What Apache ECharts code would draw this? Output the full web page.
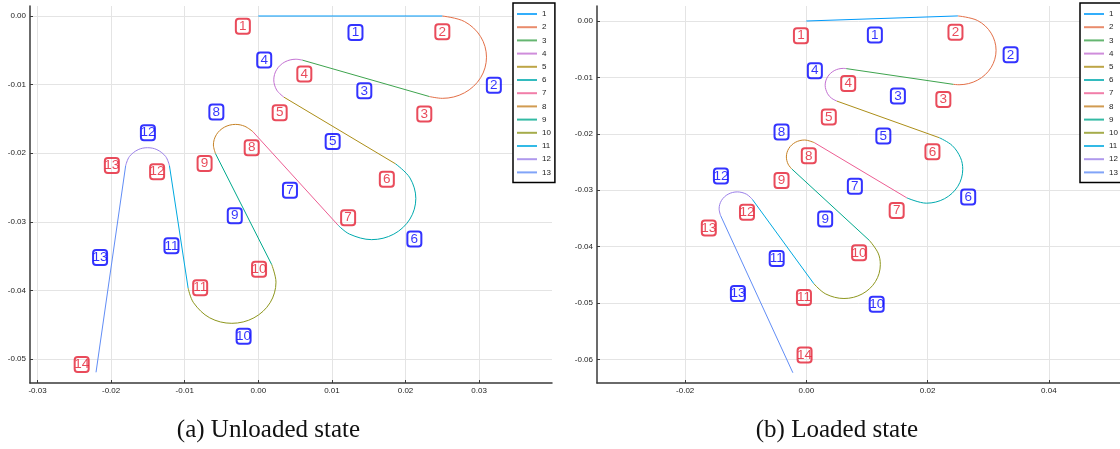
<!DOCTYPE html>
<html><head><meta charset="utf-8">
<script src="https://cdn.jsdelivr.net/npm/echarts@6/dist/echarts.min.js"></script>
<style>html,body{margin:0;padding:0;background:#fff}#c{width:1120px;height:449px}</style>
</head><body><div id="c"></div>
<script>
// ---- data ----
const segmentNames = ['1','2','3','4','5','6','7','8','9','10','11','12','13'];
const captions = ['(a) Unloaded state', '(b) Loaded state'];

// (a) unloaded state: points along each of the 13 segments
const unloadedSegments = [
  [[0,0],[0.025,0]],
  [[0.025,0],[0.028,-0.0008],[0.0302,-0.003],[0.031,-0.006],[0.0302,-0.009],[0.028,-0.0112],[0.025,-0.012],[0.02324,-0.01174]],
  [[0.02324,-0.01174],[0.00598,-0.00643]],
  [[0.00598,-0.00643],[0.0051,-0.0063],[0.0036,-0.0067],[0.0025,-0.0078],[0.0021,-0.0093],[0.0025,-0.0108],[0.00348,-0.01183]],
  [[0.00348,-0.01183],[0.01864,-0.02155]],
  [[0.01864,-0.02155],[0.0206,-0.0236],[0.0214,-0.0266],[0.0206,-0.0296],[0.0184,-0.0318],[0.0154,-0.0326],[0.0124,-0.0318],[0.01084,-0.0305]],
  [[0.01084,-0.0305],[-0.00075,-0.01685]],
  [[-0.00075,-0.01685],[-0.00183,-0.01608],[-0.0031,-0.0158],[-0.0046,-0.0162],[-0.0057,-0.0173],[-0.0061,-0.0188],[-0.00581,-0.02008]],
  [[-0.00581,-0.02008],[0.00182,-0.03624]],
  [[0.00182,-0.03624],[0.0024,-0.0388],[0.0016,-0.0418],[-0.0006,-0.0440],[-0.0036,-0.0448],[-0.0066,-0.0440],[-0.0088,-0.0418],[-0.00954,-0.03965]],
  [[-0.00954,-0.03965],[-0.01208,-0.02178]],
  [[-0.01208,-0.02178],[-0.01259,-0.02048],[-0.01378,-0.01948],[-0.01505,-0.0192],[-0.01632,-0.01948],[-0.01751,-0.02048],[-0.01802,-0.0218]],
  [[-0.01802,-0.0218],[-0.02205,-0.05194]]
];

// (b) loaded state
const loadedSegments = [
  [[0,0],[0.0250,0.0009]],
  [[0.0250,0.0009],[0.02825,0.00008],[0.03048,-0.00215],[0.0313,-0.0052],[0.03048,-0.00825],[0.02825,-0.01048],[0.0252,-0.0113],[0.02425,-0.01123]],
  [[0.02425,-0.01123],[0.00657,-0.00844]],
  [[0.00657,-0.00844],[0.0061,-0.0084],[0.0046,-0.0088],[0.0035,-0.0099],[0.0031,-0.0114],[0.0035,-0.0129],[0.00417,-0.0137],[0.00503,-0.0142]],
  [[0.00503,-0.0142],[0.02195,-0.0207]],
  [[0.02195,-0.0207],[0.02404,-0.02206],[0.02544,-0.02425],[0.0258,-0.0263],[0.025,-0.0293],[0.0228,-0.0315],[0.0198,-0.0323],[0.01656,-0.03135]],
  [[0.01656,-0.03135],[0.00132,-0.02157]],
  [[0.00132,-0.02157],[-0.0003,-0.0211],[-0.0018,-0.0215],[-0.0029,-0.0226],[-0.0033,-0.0241],[-0.00302,-0.02537],[-0.00241,-0.02623]],
  [[-0.00241,-0.02623],[0.01042,-0.03893]],
  [[0.01042,-0.03893],[0.01184,-0.04115],[0.0122,-0.0432],[0.0114,-0.0462],[0.0092,-0.0484],[0.0062,-0.0492],[0.0032,-0.0484],[0.00123,-0.04657]],
  [[0.00123,-0.04657],[-0.00892,-0.03162]],
  [[-0.00892,-0.03162],[-0.0099,-0.0307],[-0.0114,-0.0303],[-0.0129,-0.0307],[-0.0140,-0.0318],[-0.0144,-0.0333],[-0.01416,-0.03448]],
  [[-0.01416,-0.03448],[-0.00223,-0.06236]]
];

// boxed node numbers (red) and segment numbers (blue): [x, y, text]
const unloadedNodeLabels = [
  [-0.0021,-0.0015,'1'],[0.0250,-0.0023,'2'],[0.02255,-0.0143,'3'],[0.00625,-0.00845,'4'],
  [0.0029,-0.0141,'5'],[0.01746,-0.0238,'6'],[0.0122,-0.0294,'7'],[-0.0009,-0.0192,'8'],
  [-0.0073,-0.0215,'9'],[0.0001,-0.0369,'10'],[-0.0079,-0.0396,'11'],[-0.01375,-0.0227,'12'],
  [-0.0199,-0.0218,'13'],[-0.0240,-0.0508,'14']
];
const unloadedSegmentLabels = [
  [0.0132,-0.0024,'1'],[0.0320,-0.0101,'2'],[0.0144,-0.0109,'3'],[0.0008,-0.0064,'4'],
  [0.0101,-0.0183,'5'],[0.0212,-0.0325,'6'],[0.0043,-0.0254,'7'],[-0.0057,-0.0140,'8'],
  [-0.0032,-0.0291,'9'],[-0.0020,-0.0467,'10'],[-0.0118,-0.0335,'11'],[-0.0150,-0.0170,'12'],
  [-0.0215,-0.0352,'13']
];
const loadedNodeLabels = [
  [-0.0009,-0.0026,'1'],[0.0246,-0.0020,'2'],[0.0226,-0.0139,'3'],[0.0069,-0.0111,'4'],
  [0.0037,-0.0170,'5'],[0.0208,-0.0232,'6'],[0.0149,-0.0336,'7'],[0.0004,-0.0239,'8'],
  [-0.0041,-0.0283,'9'],[0.0087,-0.0411,'10'],[-0.0004,-0.0490,'11'],[-0.0098,-0.0339,'12'],
  [-0.0161,-0.0367,'13'],[-0.0003,-0.0592,'14']
];
const loadedSegmentLabels = [
  [0.0113,-0.0025,'1'],[0.0337,-0.0060,'2'],[0.0151,-0.0133,'3'],[0.0014,-0.0088,'4'],
  [0.0127,-0.0204,'5'],[0.0267,-0.0312,'6'],[0.0080,-0.0293,'7'],[-0.0041,-0.0197,'8'],
  [0.0031,-0.0351,'9'],[0.0116,-0.0502,'10'],[-0.0049,-0.0421,'11'],[-0.0141,-0.0275,'12'],
  [-0.0113,-0.0483,'13']
];

// ---- styling ----
const palette = ['#009afa','#e36f47','#3ea44e','#c371d2','#ac8e18','#00aaae','#ed5e93',
                 '#c68225','#00a98d','#8e971e','#00a9e0','#9b7fe9','#618df6'];
const RED = '#e41e32', BLUE = '#0000ff';
const TICK_FONT = '"Liberation Sans", Arial, sans-serif';

function fmt(v){ return Math.abs(v) < 1e-9 ? '0.00' : v.toFixed(2); }

function axis(gi, min, max){
  return {
    type:'value', gridIndex:gi, min:min, max:max, splitNumber:5,
    axisLine:{show:true, onZero:false, lineStyle:{color:'#3a3a3a', width:1.5}},
    axisTick:{show:true, inside:true, length:3, lineStyle:{color:'#3a3a3a', width:1}},
    axisLabel:{show:true, fontSize:8, fontFamily:TICK_FONT, color:'#222', margin:4,
               showMinLabel:false, showMaxLabel:false, formatter:fmt},
    splitLine:{show:true, showMinLine:false, showMaxLine:false, lineStyle:{color:'#e4e4e4', width:1}}
  };
}

const series = [];
[unloadedSegments, loadedSegments].forEach((segs, gi) => {
  segs.forEach((pts, i) => {
    series.push({
      type:'line', name:segmentNames[i], xAxisIndex:gi, yAxisIndex:gi, data:pts,
      showSymbol:false, symbol:'none', smooth: pts.length > 2 ? 0.35 : false,
      lineStyle:{width:1, color:palette[i]}, itemStyle:{color:palette[i]},
      silent:true, z:2
    });
  });
});

function labelSeries(data, color, gi){
  return {
    type:'scatter', name:'labels', xAxisIndex:gi, yAxisIndex:gi, data:data,
    encode:{x:0, y:1}, symbolSize:1, itemStyle:{color:'rgba(0,0,0,0)'}, silent:true, z:3,
    label:{show:true, position:'inside', formatter:p => p.value[2],
      color:color, fontSize:13.5, fontFamily:TICK_FONT,
      borderColor:color, borderWidth:2, borderRadius:3,
      width:12, height:13, lineHeight:13, align:'center', verticalAlign:'middle',
      padding:[2,1,0,1], overflow:'none'}
  };
}
series.push(labelSeries(unloadedNodeLabels, RED, 0));
series.push(labelSeries(unloadedSegmentLabels, BLUE, 0));
series.push(labelSeries(loadedNodeLabels, RED, 1));
series.push(labelSeries(loadedSegmentLabels, BLUE, 1));

function legend(left){
  return {
    data:segmentNames, orient:'vertical', left:left, top:3,
    itemWidth:20, itemHeight:2, itemGap:3.2, icon:'rect',
    padding:[6,4,5,4], borderColor:'#000', borderWidth:1.5, backgroundColor:'#fff',
    textStyle:{fontSize:8, fontFamily:TICK_FONT, color:'#222', lineHeight:10},
    itemStyle:{opacity:0.8}, selectedMode:false
  };
}

const chart = echarts.init(document.getElementById('c'), null, {renderer:'canvas'});
chart.setOption({
  animation:false,
  backgroundColor:'#fff',
  grid:[{left:30, top:6, width:522, height:377}, {left:597, top:6, width:523, height:377}],
  xAxis:[axis(0, -0.03102, 0.0399), axis(1, -0.03455, 0.05175)],
  yAxis:[axis(0, -0.0535, 0.00146), axis(1, -0.06418, 0.00266)],
  legend:[legend(513), legend(1080)],
  series:series,
  graphic:captions.map((t, i) => ({
    type:'text', x:[268.5, 837][i], y:430, silent:true,
    style:{text:t, font:'25px "Liberation Serif", "Times New Roman", serif', fill:'#111',
           textAlign:'center', textVerticalAlign:'middle'}
  }))
});
</script></body></html>
